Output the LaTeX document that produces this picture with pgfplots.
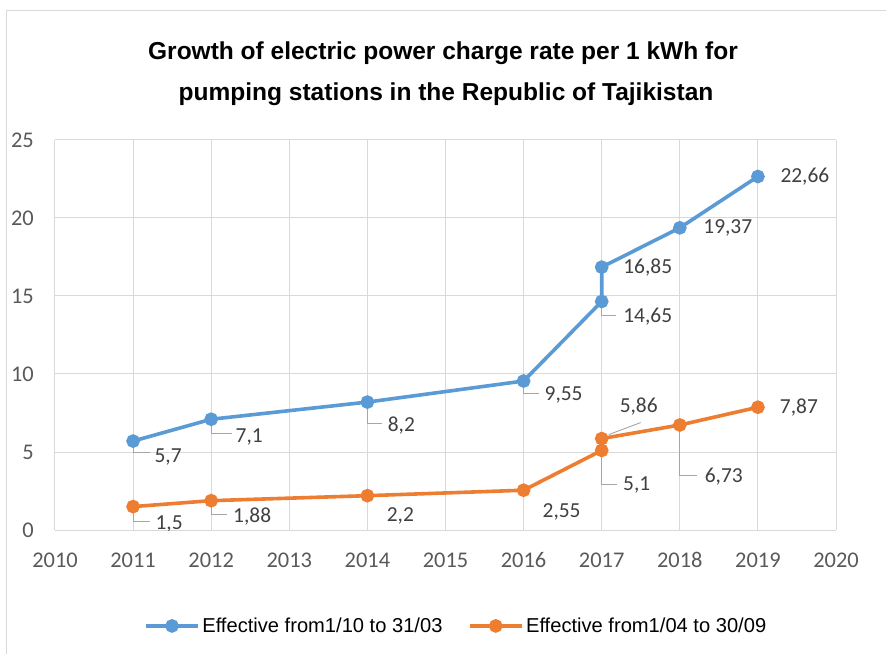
\documentclass[border=0pt]{standalone}
\usepackage{pgfplots}
\pgfplotsset{compat=1.18}
\usepackage{fontspec}
\setmainfont{Liberation Sans}
\newfontfamily\tickfont{Carlito}

\definecolor{winterblue}{HTML}{5B9BD5}
\definecolor{summerorange}{HTML}{ED7D31}
\definecolor{gridgray}{HTML}{D9D9D9}
\definecolor{ticktext}{HTML}{595959}
\definecolor{labeltext}{HTML}{404040}
\definecolor{leadergray}{HTML}{A6A6A6}

% tariff, effective 1/10 to 31/03
\pgfplotstableread{
year  rate
2011  5.7
2012  7.1
2014  8.2
2016  9.55
2017  14.65
2017  16.85
2018  19.37
2019  22.66
}\winter

% tariff, effective 1/04 to 30/09
\pgfplotstableread{
year  rate
2011  1.5
2012  1.88
2014  2.2
2016  2.55
2017  5.1
2017  5.86
2018  6.73
2019  7.87
}\summer

\begin{document}
\begin{tikzpicture}[
  lbl/.style={font=\tickfont\fontsize{21.5}{24}\selectfont, text=labeltext, inner sep=0pt},
  leader/.style={draw=leadergray, line width=0.9bp}]
\path[use as bounding box] (-55bp,-124bp) rectangle (831bp,530bp);
% chart frame
\draw[gridgray, line width=1bp] (-48bp,-124bp) -- (-48bp,519bp) -- (831bp,519bp);
% title
\node[font=\bfseries\fontsize{24.6}{28}\selectfont] at (388bp,477bp)
  {Growth of electric power charge rate per 1 kWh for};
\node[font=\bfseries\fontsize{24.6}{28}\selectfont] at (391bp,436bp)
  {pumping stations in the Republic of Tajikistan};

\begin{axis}[
  scale only axis,
  width=781bp, height=390bp,
  xmin=2010, xmax=2020, ymin=0, ymax=25,
  xtick={2010,2011,...,2020},
  ytick={0,5,...,25},
  major tick length=0pt,
  axis line style={draw=none},
  grid=major,
  major grid style={draw=gridgray, line width=1bp},
  /pgf/number format/assume math mode=true,
  x tick label style={/pgf/number format/1000 sep={}},
  ticklabel style={font=\tickfont\fontsize{22.5}{25}\selectfont, text=ticktext},
  xticklabel style={anchor=center, yshift=-30bp},
  yticklabel style={anchor=east, inner sep=0pt, xshift=-21bp},
  legend columns=2,
  legend style={at={(0.1140,-0.246)}, anchor=west, draw=none, fill=none,
    inner sep=0pt, font=\fontsize{20.2}{23}\selectfont,
    nodes={inner sep=2.5bp},
    /tikz/every even column/.append style={column sep=23bp}},
  legend image code/.code={
    \draw[mark repeat=2, mark phase=2, #1]
      plot coordinates {(0bp,0bp) (26bp,0bp) (52bp,0bp)};},
  every axis plot/.append style={line width=3.6bp, mark=*,
    mark options={line width=0pt, scale=1}, mark size=5bp},
]
\addplot[winterblue, mark options={fill=winterblue}] table[x=year, y=rate] {\winter};
\addlegendentry{Effective from1/10 to 31/03}
\addplot[summerorange, mark options={fill=summerorange}] table[x=year, y=rate] {\summer};
\addlegendentry{Effective from1/04 to 30/09}

% leader lines
\draw[leader] (axis cs:2011,5.7)   ++(0bp,-6bp) -- ++(0bp,-5bp)  -- ++(17bp,0bp);
\draw[leader] (axis cs:2012,7.1)   ++(0bp,-6bp) -- ++(0bp,-8bp)  -- ++(21bp,0bp);
\draw[leader] (axis cs:2014,8.2)   ++(0bp,-6bp) -- ++(0bp,-15bp) -- ++(15bp,0bp);
\draw[leader] (axis cs:2016,9.55)  ++(0bp,-6bp) -- ++(0bp,-6bp)  -- ++(15bp,0bp);
\draw[leader] (axis cs:2017,14.65) ++(0bp,-6bp) -- ++(0bp,-8bp)  -- ++(14bp,0bp);
\draw[leader] (axis cs:2011,1.5)   ++(0bp,-6bp) -- ++(0bp,-9bp)  -- ++(17bp,0bp);
\draw[leader] (axis cs:2012,1.88)  ++(0bp,-6bp) -- ++(0bp,-8bp)  -- ++(16bp,0bp);
\draw[leader] (axis cs:2017,5.1)   ++(0bp,-6bp) -- ++(0bp,-28bp) -- ++(15bp,0bp);
\draw[leader] (axis cs:2018,6.73)  ++(0bp,-6bp) -- ++(0bp,-44bp) -- ++(17bp,0bp);
\draw[leader] (axis cs:2017,5.86)  ++(7bp,4bp) -- ++(32bp,12bp);

% value labels
\node[lbl] at ([shift={(35bp,-16bp)}]axis cs:2011,5.7)   {5,7};
\node[lbl] at ([shift={(38bp,-18bp)}]axis cs:2012,7.1)   {7,1};
\node[lbl] at ([shift={(34bp,-23bp)}]axis cs:2014,8.2)   {8,2};
\node[lbl] at ([shift={(40bp,-14bp)}]axis cs:2016,9.55)  {9,55};
\node[lbl] at ([shift={(46bp,-15bp)}]axis cs:2017,14.65) {14,65};
\node[lbl] at ([shift={(46bp,0bp)}]axis cs:2017,16.85)   {16,85};
\node[lbl] at ([shift={(48bp,0bp)}]axis cs:2018,19.37)   {19,37};
\node[lbl] at ([shift={(47bp,0bp)}]axis cs:2019,22.66)   {22,66};
\node[lbl] at ([shift={(36bp,-17bp)}]axis cs:2011,1.5)   {1,5};
\node[lbl] at ([shift={(41bp,-16bp)}]axis cs:2012,1.88)  {1,88};
\node[lbl] at ([shift={(33bp,-20bp)}]axis cs:2014,2.2)   {2,2};
\node[lbl] at ([shift={(38bp,-22bp)}]axis cs:2016,2.55)  {2,55};
\node[lbl] at ([shift={(35bp,-35bp)}]axis cs:2017,5.1)   {5,1};
\node[lbl] at ([shift={(37bp,32bp)}]axis cs:2017,5.86)   {5,86};
\node[lbl] at ([shift={(44bp,-52bp)}]axis cs:2018,6.73)  {6,73};
\node[lbl] at ([shift={(41bp,0bp)}]axis cs:2019,7.87)    {7,87};
\end{axis}
\end{tikzpicture}
\end{document}
